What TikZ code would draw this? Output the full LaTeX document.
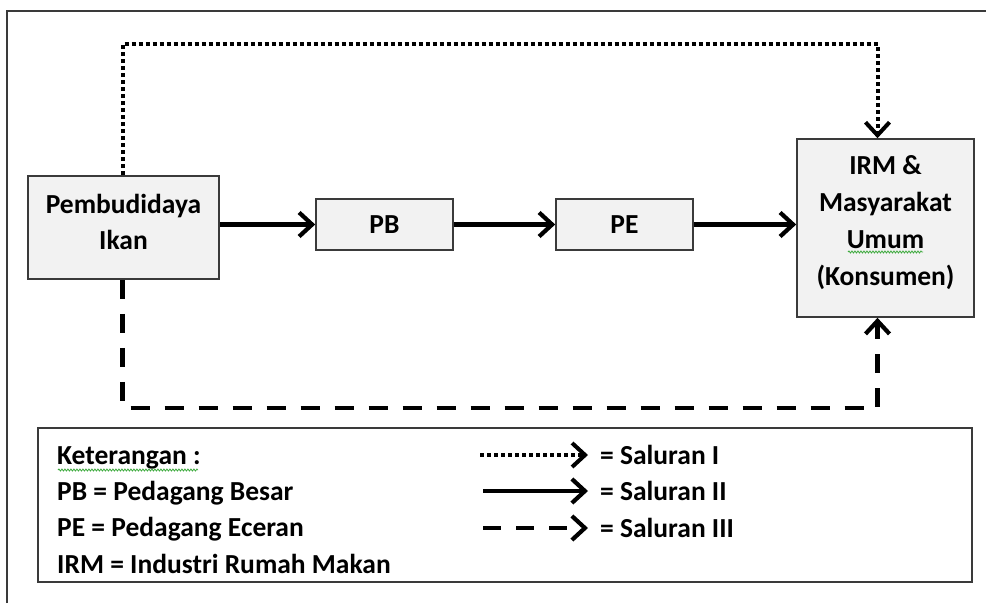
\documentclass[tikz,border=0pt]{standalone}
\usepackage{fontspec}
\setmainfont{Carlito}
\usetikzlibrary{arrows.meta,decorations.pathmorphing}
\definecolor{boxfill}{HTML}{F2F2F2}
\definecolor{edgecol}{HTML}{3A3A3A}
\definecolor{squiggle}{HTML}{3DAA3D}
\begin{document}
\begin{tikzpicture}[x=1pt,y=-1pt,
  box/.style={draw=edgecol,line width=1.6pt,fill=boxfill,align=center,inner sep=0pt,
    font=\fontsize{27.5}{36}\selectfont\bfseries},
  boxtext/.style={align=center,inner sep=0pt,font=\fontsize{27.5}{36}\selectfont\bfseries},
  tip/.style={-{Straight Barb[length=13pt,width=24pt]}},
  sal2/.style={tip,line width=4.2pt},
  sal1/.style={tip,line width=4pt,dash pattern=on 4pt off 3pt},
  sal3/.style={tip,line width=4.2pt,dash pattern=on 19pt off 15pt},
  legtext/.style={anchor=base west,inner sep=0pt,font=\fontsize{27.5}{30}\selectfont\bfseries},
  wavy/.style={squiggle,line width=0.8pt,decorate,decoration={snake,amplitude=1pt,segment length=3pt}}
]
\useasboundingbox (0,0) rectangle (986,603);
% outer frame (only top and left visible)
\draw[edgecol,line width=2pt] (7,603) -- (7,11) -- (986,11);

% main boxes
\node[box,minimum width=191pt,minimum height=103pt] (pemb) at (123.5,227.5) {};
\node[boxtext] (pembtxt) at ([yshift=6pt]pemb.center) {Pembudidaya\\Ikan};
\node[box,minimum width=137pt,minimum height=51pt] (pb) at (384.5,224.5) {PB};
\node[box,minimum width=137pt,minimum height=51pt] (pe) at (624.5,224.5) {PE};
\node[box,minimum width=177pt,minimum height=178pt] (irm) at (885.5,228) {};
\node[boxtext,font=\fontsize{27.5}{37}\selectfont\bfseries] (irmtxt) at ([yshift=5pt]irm.center) {IRM \&\\Masyarakat\\Umum\\(Konsumen)};
\draw[wavy] (848,252) -- (923,252);

% Saluran II (solid)
\draw[sal2] (pemb.east |- pb.west) -- (pb.west);
\draw[sal2] (pb.east) -- (pe.west);
\draw[sal2] (pe.east) -- (pe.east -| irm.west);

% Saluran I (dotted)
\coordinate (irmtop) at ([xshift=-8pt]irm.north);
\coordinate (irmbot) at ([xshift=-8pt]irm.south);
\draw[sal1] ([xshift=-1pt]pemb.north) -- ++(0,-131) -| (irmtop);

% Saluran III (dashed)
\draw[sal3] ([xshift=-1pt]pemb.south) -- ++(0,128) -| (irmbot);

% legend
\node[draw=edgecol,line width=1.6pt,minimum width=934pt,minimum height=154pt,inner sep=0pt] (legend) at (505,505) {};
\node[legtext] (k0) at (57,464) {Keterangan :};
\draw[wavy] (58,470) -- (198,470);
\node[legtext] (k1) at (57,500) {PB = Pedagang Besar};
\node[legtext] (k2) at (57,536) {PE = Pedagang Eceran};
\node[legtext] (k3) at (57,573) {IRM = Industri Rumah Makan};

\coordinate (l1a) at (480,455); \coordinate (l1b) at (588,455);
\coordinate (l2a) at (483,491); \coordinate (l2b) at (588,491);
\coordinate (l3a) at (483,528); \coordinate (l3b) at (588,528);
\draw[sal1] (l1a) -- (l1b);
\draw[sal2] (l2a) -- (l2b);
\draw[sal3,dash pattern=on 18pt off 15pt] (l3a) -- (l3b);
\node[legtext] (s1) at (600,464) {= Saluran I};
\node[legtext] (s2) at (600,500) {= Saluran II};
\node[legtext] (s3) at (600,537) {= Saluran III};
\end{tikzpicture}
\end{document}
